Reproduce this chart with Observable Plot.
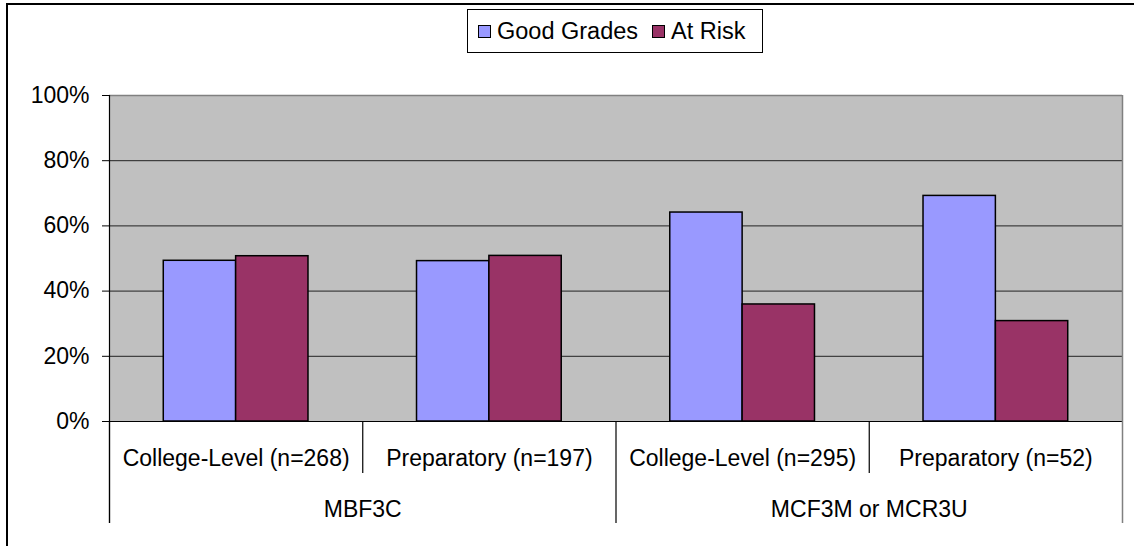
<!DOCTYPE html>
<html>
<head>
<meta charset="utf-8">
<script src="https://cdn.jsdelivr.net/npm/d3@7"></script>
<script src="https://cdn.jsdelivr.net/npm/@observablehq/plot@0.6"></script>
<style>
html, body { margin: 0; padding: 0; background: #fff; overflow: hidden; }
#wrap { position: relative; width: 1134px; height: 546px; font-family: Arial, "Liberation Sans", sans-serif; color: #000; }
#wrap svg { position: absolute; left: 0; top: 0; }
#border { position: absolute; left: 6px; top: 3px; width: 1200px; height: 600px; border-top: 2px solid #000; border-left: 2px solid #000; pointer-events: none; }
#legend { position: absolute; left: 467px; top: 9px; width: 296px; height: 44px; box-sizing: border-box; border: 1px solid #000; background: #fff; display: flex; align-items: center; padding-left: 10px; font-size: 23.5px; white-space: nowrap; }
#legend .sw { display: inline-block; width: 11px; height: 11px; border: 1px solid #000; margin-right: 6px; }
#legend .item { display: flex; align-items: center; margin-right: 14px; }
</style>
</head>
<body>
<div id="wrap"></div>
<script>
// ---- data ----
const categories = ["College-Level (n=268)", "Preparatory (n=197)", "College-Level (n=295)", "Preparatory (n=52)"];
const categoryGroups = ["MBF3C", "MBF3C", "MCF3M or MCR3U", "MCF3M or MCR3U"];
const groupNames = ["MBF3C", "MCF3M or MCR3U"];
const series = ["Good Grades", "At Risk"];
const goodGrades = [49.3, 49.2, 64.1, 69.2];
const atRisk = [50.7, 50.8, 35.9, 30.8];
const yTicks = [0, 20, 40, 60, 80, 100];
const seriesColors = ["#9999FF", "#993366"];

// ---- layout ----
const W = 1134, H = 546, mL = 109, mR = 12, mT = 95, mB = 125;
const frameH = H - mT - mB;
const bw = (W - mL - mR) / categories.length;
const barW = bw / (series.length + 1.5); // gap width 150%
const sideGap = 0.75 * barW;
const innerDrop = 52, groupDrop = 102;

const rows = categories.flatMap((c, i) => [
  {category: c, series: series[0], value: goodGrades[i]},
  {category: c, series: series[1], value: atRisk[i]}
]);
const groupFirst = groupNames.map(g => ({name: g, first: categories[categoryGroups.indexOf(g)], count: categoryGroups.filter(x => x === g).length}));
const innerStarts = categories.filter((c, i) => i > 0 && categoryGroups[i] === categoryGroups[i - 1]);

const chart = Plot.plot({
  width: W, height: H,
  marginLeft: mL, marginRight: mR, marginTop: mT, marginBottom: mB,
  style: {fontFamily: "Arial, 'Liberation Sans', sans-serif", fontSize: "23px", color: "#000", background: "transparent", overflow: "visible"},
  x: {domain: categories, padding: 0, round: false, axis: null},
  y: {domain: [0, 100], ticks: yTicks, tickFormat: d => d + "%", tickSize: 7, tickPadding: 13, label: null},
  color: {domain: series, range: seriesColors},
  marks: [
    Plot.frame({fill: "#C0C0C0"}),
    Plot.gridY(yTicks.filter(t => t > 0 && t < 100), {stroke: "#222", strokeOpacity: 1, strokeWidth: 1}),
    Plot.ruleY([100], {stroke: "#808080", strokeWidth: 1.5}),
    Plot.barY(rows.filter(d => d.series === series[0]), {
      x: "category", y: "value", fill: "series", stroke: "#000", strokeWidth: 1.5,
      insetLeft: sideGap, insetRight: bw - sideGap - barW
    }),
    Plot.barY(rows.filter(d => d.series === series[1]), {
      x: "category", y: "value", fill: "series", stroke: "#000", strokeWidth: 1.5,
      insetLeft: sideGap + barW, insetRight: sideGap
    }),
    Plot.ruleY([0], {stroke: "#000", strokeWidth: 1.2}),
    // left axis line, extended down through the category rows
    Plot.ruleX([categories[0]], {x: d => d, dx: -bw / 2, stroke: "#000", strokeWidth: 1.2, insetBottom: -groupDrop}),
    // right plot edge
    Plot.ruleX([categories[categories.length - 1]], {x: d => d, dx: bw / 2, stroke: "#808080", strokeWidth: 1.5, insetBottom: -groupDrop}),
    // group separators
    Plot.ruleX(groupFirst.map(g => g.first), {x: d => d, dx: -bw / 2, stroke: "#000", strokeWidth: 1.2, insetTop: frameH, insetBottom: -groupDrop}),
    // inner category separators
    Plot.ruleX(innerStarts, {x: d => d, dx: -bw / 2, stroke: "#000", strokeWidth: 1.2, insetTop: frameH, insetBottom: -innerDrop}),
    // category labels
    Plot.text(categories, {x: d => d, y: () => 0, dy: 37, fill: "#000"}),
    // group labels
    Plot.text(groupFirst, {x: "first", y: () => 0, dx: (groupFirst[0].count - 1) * bw / 2, dy: 88, text: "name", fill: "#000"})
  ]
});

const wrap = document.getElementById("wrap");
wrap.appendChild(chart);

const border = document.createElement("div");
border.id = "border";
wrap.appendChild(border);

const legend = document.createElement("div");
legend.id = "legend";
series.forEach((s, i) => {
  const item = document.createElement("span");
  item.className = "item";
  const sw = document.createElement("span");
  sw.className = "sw";
  sw.style.background = seriesColors[i];
  item.appendChild(sw);
  item.appendChild(document.createTextNode(s));
  legend.appendChild(item);
});
wrap.appendChild(legend);
</script>
</body>
</html>
